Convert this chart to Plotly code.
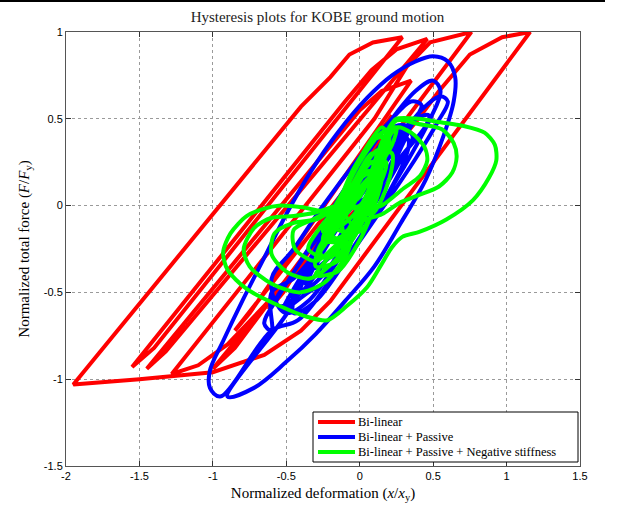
import plotly.graph_objects as go

# ---------------- data ----------------
red_x = [0.0, -0.9, -1.1, -1.28,
         0.1, 0.25, 0.32, 0.48, 0.76,
         -0.85, -1.0,
         0.4, 0.54, 0.75, 0.97, 1.16,
         -0.2, -0.4, -0.65, -1.0, -1.5, -1.95,
         -0.4, -0.2, -0.07, 0.09, 0.29,
         -1.4, -1.55,
         -0.1, 0.08, 0.25, 0.46,
         -1.32, -1.45,
         0.0, 0.15, 0.35,
         -0.75, -0.85,
         0.0, 0.12, 0.22,
         -0.52, -0.62,
         0.05, 0.15,
         -0.2]
red_y = [0.0, -0.8, -0.92, -0.97,
         0.5, 0.7, 0.8, 0.94, 1.0,
         -0.82, -0.94,
         0.5, 0.66, 0.87, 0.97, 1.0,
         -0.55, -0.72, -0.86, -0.96, -1.0, -1.03,
         0.57, 0.74, 0.87, 0.94, 0.97,
         -0.82, -0.93,
         0.6, 0.78, 0.9, 0.96,
         -0.84, -0.94,
         0.55, 0.66, 0.72,
         -0.62, -0.72,
         0.2, 0.4, 0.52,
         -0.5, -0.6,
         0.25, 0.38,
         -0.02]

blue_x = [0.0,
          -0.15, 0.0, 0.12, 0.15, 0.05, -0.1, -0.17,
          -0.3, -0.15, 0.05, 0.2, 0.26, 0.18, 0.0, -0.2, -0.32,
          -0.4, -0.25, -0.05, 0.15, 0.28, 0.33, 0.25, 0.1, -0.1, -0.3, -0.42,
          -0.45, -0.3, -0.08, 0.15, 0.38, 0.53, 0.6, 0.55, 0.42, 0.2, -0.05, -0.28, -0.45, -0.48,
          -0.9, -0.72, -0.5, -0.3, -0.1, 0.1, 0.28, 0.45, 0.57, 0.64, 0.65, 0.6, 0.5, 0.38, 0.22,
          0.05, -0.15, -0.33, -0.5, -0.65, -0.8, -0.93, -1.02, -1.02, -0.95,
          -0.6, -0.42, -0.2, 0.05, 0.3, 0.48, 0.55, 0.5, 0.38, 0.15, -0.1, -0.35, -0.55, -0.65, -0.6,
          -0.6, -0.45, -0.25, 0.0, 0.22, 0.38, 0.42, 0.35, 0.2, 0.0, -0.25, -0.45, -0.6,
          -0.55, -0.4, -0.2, 0.05, 0.28, 0.45, 0.47, 0.38, 0.2, -0.05, -0.3, -0.5, -0.57,
          -0.5, -0.35, -0.15, 0.08, 0.25, 0.36, 0.3, 0.15, -0.05, -0.28, -0.45, -0.52,
          -0.35, -0.2, 0.0, 0.18, 0.3, 0.33, 0.22, 0.05, -0.15, -0.32, -0.37,
          -0.25, -0.1, 0.05]
blue_y = [0.0,
          -0.2, -0.05, 0.12, 0.22, 0.15, -0.02, -0.15,
          -0.36, -0.25, 0.0, 0.22, 0.35, 0.35, 0.15, -0.1, -0.3,
          -0.5, -0.4, -0.15, 0.12, 0.33, 0.45, 0.46, 0.3, 0.05, -0.25, -0.45,
          -0.62, -0.55, -0.3, -0.02, 0.27, 0.48, 0.6, 0.63, 0.55, 0.3, 0.0, -0.3, -0.52, -0.6,
          -1.1, -1.05, -0.9, -0.74, -0.55, -0.35, -0.1, 0.15, 0.4, 0.6, 0.74, 0.83, 0.86, 0.83, 0.75,
          0.62, 0.42, 0.2, -0.05, -0.3, -0.55, -0.78, -0.95, -1.05, -1.1,
          -0.72, -0.66, -0.43, -0.12, 0.22, 0.5, 0.66, 0.72, 0.66, 0.42, 0.1, -0.25, -0.52, -0.68, -0.72,
          -0.5, -0.42, -0.22, 0.05, 0.3, 0.5, 0.58, 0.6, 0.48, 0.28, 0.0, -0.25, -0.42,
          -0.58, -0.5, -0.28, 0.02, 0.28, 0.46, 0.52, 0.5, 0.35, 0.08, -0.2, -0.45, -0.55,
          -0.62, -0.55, -0.32, -0.02, 0.22, 0.4, 0.44, 0.3, 0.05, -0.25, -0.48, -0.6,
          -0.5, -0.42, -0.2, 0.05, 0.25, 0.38, 0.4, 0.22, -0.05, -0.3, -0.45,
          -0.25, -0.05, 0.05]

green_x = [0.05, 0.12, 0.2, 0.25, 0.4, 0.55, 0.7, 0.85, 0.92, 0.93, 0.88, 0.77, 0.59, 0.41, 0.29,
           0.22, 0.14, 0.05, -0.09, -0.22, -0.36, -0.54, -0.77, -0.9, -0.93, -0.88, -0.77, -0.66,
           -0.54, -0.39, -0.25, -0.1,
           0.0, 0.15, 0.25, 0.4, 0.56, 0.64, 0.66, 0.63, 0.54, 0.4, 0.28, 0.15, 0.0,
           -0.1, -0.25, -0.41, -0.6, -0.75, -0.79, -0.72, -0.6, -0.45, -0.3, -0.15,
           0.0, 0.15, 0.25, 0.35, 0.44, 0.46, 0.41, 0.3, 0.15,
           0.0, -0.15, -0.34, -0.5, -0.6, -0.58, -0.45, -0.3, -0.1,
           0.08, 0.2, 0.22, 0.12, -0.02, -0.18, -0.27, -0.25, -0.1,
           0.1, 0.18, 0.08, -0.08, -0.2, -0.2, -0.05,
           -0.15, -0.3, -0.44, -0.45, -0.32, -0.15,
           0.0, 0.12, 0.15, 0.05, -0.12, -0.28, -0.3, -0.15,
           0.0, 0.1, 0.18, 0.2, 0.1, -0.05, -0.15, -0.22, -0.1,
           0.05, 0.12, 0.22, 0.25, 0.15, 0.0, -0.12, -0.2, -0.1,
           0.02, 0.1, 0.15, 0.08, -0.05, -0.18, -0.25, -0.15,
           -0.3, -0.15, 0.0, 0.1, 0.12, 0.0, -0.15, -0.3,
           -0.05, 0.1, 0.2, 0.15, 0.02, -0.1, -0.2,
           -0.25, -0.1, 0.05, 0.1, -0.05, -0.2, -0.35, -0.2,
           -0.05, 0.05, 0.12, 0.06, -0.06, -0.12, -0.1, 0.0]
green_y = [0.1, 0.3, 0.45, 0.5, 0.5, 0.48, 0.46, 0.42, 0.35, 0.26, 0.16, 0.03, -0.08, -0.15, -0.18,
           -0.24, -0.35, -0.47, -0.58, -0.66, -0.64, -0.58, -0.48, -0.37, -0.27, -0.16, -0.06, -0.02,
           0.0, -0.01, -0.03, 0.0,
           0.05, 0.35, 0.49, 0.47, 0.44, 0.36, 0.28, 0.19, 0.11, 0.06, 0.02, -0.05, -0.1,
           -0.3, -0.45, -0.5, -0.45, -0.35, -0.25, -0.13, -0.07, -0.06, -0.04, 0.0,
           0.0, 0.3, 0.45, 0.42, 0.34, 0.26, 0.17, 0.1, 0.0,
           -0.05, -0.3, -0.42, -0.38, -0.28, -0.16, -0.1, -0.08, 0.0,
           -0.05, 0.15, 0.3, 0.32, 0.15, -0.08, -0.25, -0.3, -0.25,
           0.05, 0.25, 0.25, 0.05, -0.15, -0.2, -0.15,
           -0.22, -0.32, -0.25, -0.14, -0.08, -0.02,
           -0.15, 0.05, 0.2, 0.15, -0.05, -0.25, -0.35, -0.32,
           -0.1, 0.1, 0.3, 0.4, 0.38, 0.2, 0.0, -0.15, -0.2,
           0.0, 0.2, 0.35, 0.45, 0.42, 0.25, 0.05, -0.1, -0.15,
           0.0, 0.12, 0.28, 0.3, 0.12, -0.05, -0.2, -0.22,
           -0.4, -0.38, -0.2, 0.0, 0.15, 0.08, -0.1, -0.3,
           0.0, 0.2, 0.4, 0.45, 0.3, 0.1, -0.05,
           -0.15, -0.1, 0.05, 0.2, 0.12, -0.05, -0.25, -0.3,
           -0.1, 0.0, 0.15, 0.2, 0.05, -0.1, -0.18, -0.05]

series_names = ["Bi-linear", "Bi-linear + Passive", "Bi-linear + Passive + Negative stiffness"]
series_colors = ["#ff0000", "#0000ff", "#00ff00"]

x_ticks = [-2, -1.5, -1, -0.5, 0, 0.5, 1, 1.5]
x_tick_text = ["-2", "-1.5", "-1", "-0.5", "0", "0.5", "1", "1.5"]
y_ticks = [-1.5, -1, -0.5, 0, 0.5, 1]
y_tick_text = ["-1.5", "-1", "-0.5", "0", "0.5", "1"]

# ---------------- figure ----------------
fig = go.Figure()
fig.add_trace(go.Scatter(x=red_x, y=red_y, mode="lines", name=series_names[0], showlegend=False,
                         line=dict(color=series_colors[0], width=4)))
fig.add_trace(go.Scatter(x=blue_x, y=blue_y, mode="lines", name=series_names[1], showlegend=False,
                         line=dict(color=series_colors[1], width=4, shape="spline", smoothing=1.0)))
fig.add_trace(go.Scatter(x=green_x, y=green_y, mode="lines", name=series_names[2], showlegend=False,
                         line=dict(color=series_colors[2], width=4, shape="spline", smoothing=0.8)))

axis_common = dict(showline=True, linecolor="#555555", linewidth=1, mirror="ticks",
                   ticks="inside", ticklen=5, tickcolor="#333333",
                   showgrid=True, gridcolor="#9a9a9a", griddash="dot", gridwidth=1,
                   zeroline=False,
                   tickfont=dict(family="Liberation Sans, Arial", size=11, color="black"))

fig.update_xaxes(range=[-2, 1.5], tickvals=x_ticks, ticktext=x_tick_text,
                 title=dict(text="Normalized deformation (<i>x</i>/<i>x</i><sub>y</sub>)",
                            font=dict(family="Liberation Serif, Times New Roman", size=15, color="black"),
                            standoff=6),
                 **axis_common)
fig.update_yaxes(range=[-1.5, 1], tickvals=y_ticks, ticktext=y_tick_text,
                 title=dict(text="Normalized total force (<i>F</i>/<i>F</i><sub>y</sub>)",
                            font=dict(family="Liberation Serif, Times New Roman", size=15, color="black"),
                            standoff=10),
                 **axis_common)

# legend drawn as a boxed key (paper coordinates of the plot area)
PW, PH = 514.0, 434.0
def px(xp):
    return (xp - 66) / PW
def py(yp):
    return (466 - yp) / PH

shapes = [dict(type="line", xref="paper", yref="paper",
               x0=px(0), x1=px(605), y0=py(1), y1=py(1),
               line=dict(color="black", width=2)),
          dict(type="rect", xref="paper", yref="paper",
               x0=px(313), x1=px(578), y0=py(462), y1=py(412),
               fillcolor="white", line=dict(color="black", width=1), layer="above")]
annotations = []
row_y = [422, 437, 452]
for name, color, ry in zip(series_names, series_colors, row_y):
    shapes.append(dict(type="line", xref="paper", yref="paper",
                       x0=px(318), x1=px(355), y0=py(ry), y1=py(ry),
                       line=dict(color=color, width=4), layer="above"))
    annotations.append(dict(xref="paper", yref="paper", x=px(357), y=py(ry),
                            xanchor="left", yanchor="middle", showarrow=False,
                            text=name, borderpad=0,
                            font=dict(family="Liberation Serif, Times New Roman", size=12.5, color="black")))

fig.update_layout(
    width=635, height=513,
    margin=dict(l=66, r=55, t=32, b=47),
    paper_bgcolor="white", plot_bgcolor="white",
    title=dict(text="Hysteresis plots for KOBE ground motion", x=0.5, xanchor="center",
               y=1 - 17 / 513, yanchor="middle",
               font=dict(family="Liberation Serif, Times New Roman", size=15, color="#222222")),
    showlegend=False,
    shapes=shapes,
    annotations=annotations,
)

fig.write_html("out.html")
